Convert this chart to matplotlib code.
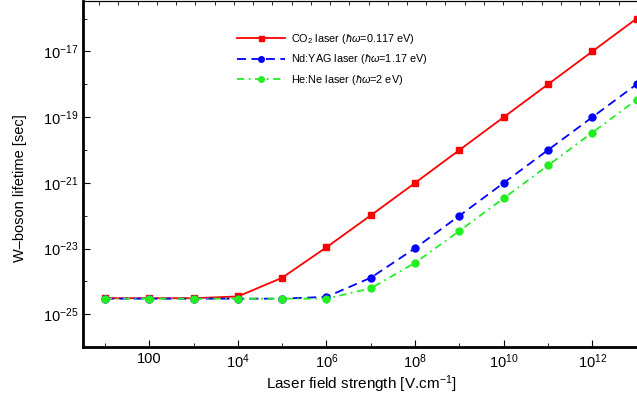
import numpy as np
import matplotlib
matplotlib.use('Agg')
import matplotlib.pyplot as plt
from matplotlib.ticker import FixedLocator, FuncFormatter, NullFormatter

plt.rcParams['font.family'] = ['Liberation Sans', 'DejaVu Sans']
plt.rcParams['mathtext.fontset'] = 'custom'
plt.rcParams['mathtext.rm'] = 'Liberation Sans'
plt.rcParams['mathtext.it'] = 'Liberation Sans:italic'
plt.rcParams['mathtext.fallback'] = 'stixsans'

field = [1e1, 1e2, 1e3, 1e4, 1e5, 1e6, 1e7, 1e8, 1e9, 1e10, 1e11, 1e12, 1e13]
co2 = [3.1e-25, 3.1e-25, 3.1e-25, 3.5e-25, 1.3e-24, 1.1e-23, 1.03e-22,
       1.0e-21, 1.0e-20, 1.0e-19, 1.0e-18, 1.0e-17, 1.0e-16]
ndyag = [3.0e-25, 3.0e-25, 3.0e-25, 3.0e-25, 3.0e-25, 3.4e-25, 1.3e-24,
         1.03e-23, 1.0e-22, 1.0e-21, 1.0e-20, 1.0e-19, 1.0e-18]
hene = [3.0e-25, 3.0e-25, 3.0e-25, 3.0e-25, 3.0e-25, 3.0e-25, 6.2e-25,
        3.7e-24, 3.45e-23, 3.4e-22, 3.4e-21, 3.4e-20, 3.4e-19]

labels = ['CO$_2$ laser ($\\hbar\\omega$=0.117 eV)',
          'Nd:YAG laser ($\\hbar\\omega$=1.17 eV)',
          'He:Ne laser ($\\hbar\\omega$=2 eV)']

fig = plt.figure(figsize=(6.37, 4.08), dpi=100)
ax = fig.add_axes([0.130, 0.149, 0.875, 0.849])

ax.plot(field, co2, '-', color='red', marker='s', ms=4.5, lw=1.3, label=labels[0])
ax.plot(field, ndyag, '--', color='blue', marker='o', ms=5, lw=1.3,
        dashes=(5, 3), label=labels[1])
ax.plot(field, hene, '-.', color='#22ee22', marker='o', ms=5, lw=1.3,
        dashes=(4, 2.5, 1, 2.5), label=labels[2])

ax.set_xscale('log')
ax.set_yscale('log')
ax.set_xlim(10**0.5, 10**13.08)
ax.set_ylim(1e-26, 10**-15.46)


def pow_fmt(v, pos):
    e = int(round(np.log10(v)))
    if e == 2:
        return '100'
    return '$10^{%d}$' % e


ax.xaxis.set_major_locator(FixedLocator([10.0**k for k in range(2, 14, 2)]))
ax.xaxis.set_minor_locator(FixedLocator([10.0**k for k in range(1, 14, 2)]))
ax.yaxis.set_major_locator(FixedLocator([10.0**k for k in range(-25, -15, 2)]))
ax.yaxis.set_minor_locator(FixedLocator([10.0**k for k in range(-26, -15, 2)]))
ax.xaxis.set_major_formatter(FuncFormatter(pow_fmt))
ax.yaxis.set_major_formatter(FuncFormatter(pow_fmt))
ax.xaxis.set_minor_formatter(NullFormatter())
ax.yaxis.set_minor_formatter(NullFormatter())

ax.tick_params(which='both', direction='in', top=False, right=False, labelsize=10.5)
ax.tick_params(which='major', length=5, width=0.8)
ax.tick_params(which='minor', length=3, width=0.6)
ax.spines['left'].set_linewidth(2)
ax.spines['bottom'].set_linewidth(2)
ax.spines['top'].set_linewidth(0.8)
ax.spines['right'].set_linewidth(0.8)

# top frame ticks at e-fold spacing, no labels
top = ax.secondary_xaxis('top')
top.set_xticks(np.exp(np.arange(1, 31)))
top.tick_params(direction='in', length=3, width=0.6, labeltop=False)
top.xaxis.set_minor_locator(FixedLocator([]))
top.spines['top'].set_linewidth(0.8)

ax.set_xlabel('Laser field strength [V.cm$^{-1}$]', fontsize=11, labelpad=2)
ax.set_ylabel('W\u2013boson lifetime [sec]', fontsize=10.5)
ax.yaxis.set_label_coords(-0.1, 0.46)

ax.legend(loc='upper left', bbox_to_anchor=(237 / 637, 1 - 32 / 408),
          bbox_transform=fig.transFigure, frameon=False, fontsize=7.8,
          borderpad=0, borderaxespad=0, handlelength=4.4, handletextpad=0.6,
          labelspacing=0.6, markerscale=0.8)

fig.savefig('out.png', dpi=100)
